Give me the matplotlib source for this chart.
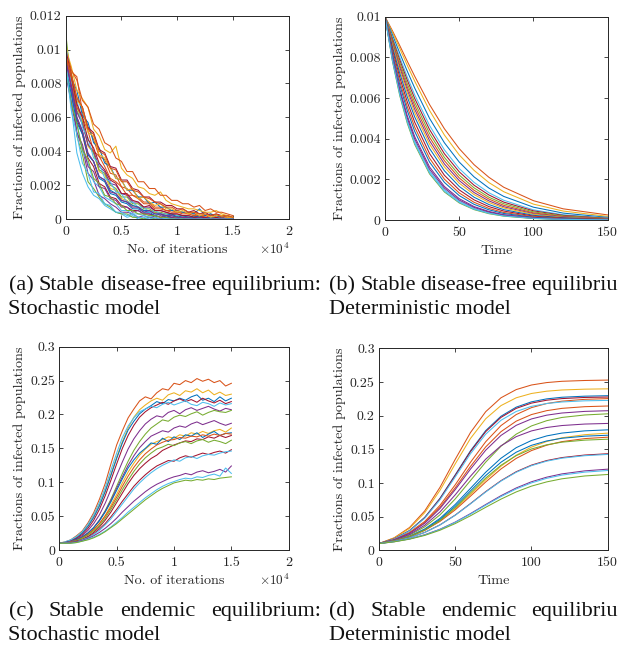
import numpy as np
import matplotlib
matplotlib.use('Agg')
import matplotlib.pyplot as plt

plt.rcParams['font.family'] = ['cmr10', 'DejaVu Serif']
plt.rcParams['mathtext.fontset'] = 'cm'
plt.rcParams['axes.unicode_minus'] = False

# MATLAB default line colours
BLUE, ORANGE, YELLOW, PURPLE = '#0072BD', '#D95319', '#EDB120', '#7E2F8E'
GREEN, LBLUE, DRED = '#77AC30', '#4DBEEE', '#A2142F'

# ---------------- (a) stochastic, disease-free (values x 1e-4) ----------------
iters = list(range(0, 15001, 500))
free_stoch = [
    [98, 66, 39, 27, 19, 14, 12, 8, 6, 4, 3, 1, 2, 0, 0, 1, 0, 0, 0, 0, 0, 0, 0, 0, 0, 0, 0, 0, 0, 0, 0],
    [110, 79, 49, 38, 22, 18, 13, 9, 7, 4, 3, 3, 1, 1, 0, 1, 0, 0, 0, 0, 0, 0, 0, 0, 0, 0, 0, 0, 0, 0, 0],
    [100, 75, 51, 42, 27, 23, 14, 12, 9, 7, 4, 4, 3, 1, 2, 1, 1, 0, 1, 0, 0, 0, 0, 0, 0, 0, 0, 0, 0, 0, 0],
    [95, 70, 57, 40, 33, 22, 19, 13, 11, 9, 5, 5, 3, 3, 2, 1, 2, 1, 0, 1, 0, 0, 0, 0, 0, 0, 0, 0, 0, 0, 0],
    [102, 82, 59, 50, 36, 31, 21, 19, 13, 12, 8, 7, 5, 5, 3, 3, 2, 1, 2, 1, 1, 0, 1, 0, 0, 0, 0, 0, 0, 0, 0],
    [98, 80, 60, 52, 38, 34, 24, 22, 15, 14, 10, 9, 6, 6, 4, 4, 2, 3, 1, 2, 1, 1, 1, 2, 0, 1, 0, 0, 1, 0, 0],
    [104, 86, 66, 58, 43, 39, 28, 26, 18, 17, 12, 11, 8, 7, 5, 5, 4, 3, 3, 2, 2, 1, 2, 1, 1, 0, 1, 0, 0, 0, 0],
    [97, 83, 64, 57, 44, 39, 29, 27, 20, 18, 13, 13, 9, 9, 6, 6, 4, 4, 3, 3, 2, 2, 1, 2, 1, 1, 0, 1, 0, 0, 0],
    [92, 79, 63, 56, 44, 40, 31, 28, 21, 20, 15, 14, 10, 10, 7, 7, 5, 5, 4, 3, 3, 2, 2, 1, 2, 1, 1, 0, 1, 0, 0],
    [100, 87, 84, 63, 54, 47, 37, 35, 27, 26, 19, 18, 14, 13, 10, 10, 7, 7, 5, 5, 4, 4, 3, 3, 2, 2, 3, 1, 2, 1, 0],
    [99, 83, 76, 61, 57, 45, 42, 33, 31, 24, 23, 17, 17, 13, 13, 9, 10, 7, 7, 5, 5, 4, 4, 3, 6, 2, 3, 2, 1, 2, 0],
    [96, 86, 71, 66, 54, 51, 41, 39, 31, 30, 23, 23, 18, 17, 13, 13, 10, 10, 8, 8, 6, 6, 4, 5, 3, 4, 2, 3, 2, 2, 1],
    [101, 90, 76, 71, 66, 53, 49, 41, 39, 43, 30, 26, 24, 19, 18, 15, 14, 16, 11, 9, 8, 7, 6, 6, 5, 4, 4, 5, 3, 2, 1],
    [100, 88, 82, 70, 66, 56, 53, 45, 43, 36, 34, 28, 28, 22, 22, 18, 18, 14, 14, 11, 11, 9, 9, 7, 8, 5, 6, 4, 4, 3, 2],
    [103, 81, 71, 54, 48, 36, 33, 24, 22, 16, 15, 10, 10, 7, 7, 4, 5, 3, 3, 2, 2, 1, 2, 0, 1, 0, 0, 1, 0, 0, 0],
    [85, 69, 51, 44, 31, 28, 19, 18, 12, 11, 7, 7, 4, 5, 3, 3, 1, 2, 1, 1, 0, 1, 0, 0, 0, 0, 0, 0, 0, 0, 0],
    [95, 83, 66, 60, 52, 40, 37, 31, 24, 22, 19, 14, 14, 12, 9, 9, 6, 6, 5, 4, 4, 3, 3, 2, 2, 1, 2, 1, 0, 1, 0],
    [88, 74, 57, 50, 38, 34, 25, 23, 17, 15, 11, 10, 8, 7, 5, 5, 3, 3, 2, 3, 1, 2, 1, 1, 2, 0, 1, 0, 0, 0, 0],
    [90, 68, 56, 41, 35, 24, 21, 14, 13, 9, 8, 5, 5, 3, 3, 2, 2, 1, 1, 0, 1, 0, 0, 0, 0, 0, 0, 0, 0, 0, 0],
    [98, 86, 70, 66, 51, 49, 38, 36, 30, 24, 23, 17, 18, 12, 13, 10, 8, 9, 6, 6, 4, 5, 3, 4, 2, 3, 1, 2, 2, 1, 1],
    [100, 85, 68, 60, 47, 42, 33, 29, 23, 21, 15, 15, 11, 10, 7, 8, 5, 5, 4, 3, 3, 2, 2, 1, 1, 1, 0, 1, 0, 0, 0],
    [94, 78, 60, 52, 39, 34, 25, 23, 16, 15, 11, 10, 7, 7, 4, 5, 3, 3, 2, 2, 1, 1, 1, 0, 1, 0, 0, 0, 0, 0, 0],
    [92, 64, 50, 33, 27, 16, 15, 9, 8, 4, 4, 2, 3, 1, 1, 0, 1, 0, 0, 0, 0, 0, 0, 0, 0, 0, 0, 0, 0, 0, 0],
    [97, 85, 72, 66, 53, 50, 40, 38, 30, 29, 22, 22, 17, 16, 13, 12, 10, 9, 7, 7, 5, 6, 4, 4, 3, 3, 2, 3, 1, 2, 1],
]
free_stoch_colors = [LBLUE, GREEN, PURPLE, LBLUE, DRED, BLUE, YELLOW, GREEN,
                     PURPLE, ORANGE, BLUE, DRED, YELLOW, ORANGE, LBLUE, PURPLE,
                     ORANGE, BLUE, GREEN, YELLOW, DRED, PURPLE, LBLUE, ORANGE]

# ---------------- (b) deterministic, disease-free (values x 1e-4) ----------------
t_free = [0, 5, 10, 15, 20, 30, 40, 50, 60, 70, 80, 100, 120, 150]
free_det = [
    [100, 93.1, 85.7, 78.1, 70.7, 56.8, 44.9, 35.1, 27.2, 21.0, 16.1, 9.5, 5.5, 2.5],
    [100, 92.3, 84.3, 76.1, 68.3, 53.9, 41.8, 32.0, 24.4, 18.4, 13.9, 7.8, 4.4, 1.8],
    [100, 91.1, 82.0, 73.2, 64.9, 50.0, 38.0, 28.5, 21.2, 15.7, 11.6, 6.3, 3.4, 1.3],
    [100, 89.9, 79.9, 70.4, 61.6, 46.5, 34.5, 25.3, 18.5, 13.4, 9.7, 5.0, 2.6, 1.0],
    [100, 89.1, 78.6, 68.8, 59.8, 44.5, 32.6, 23.7, 17.1, 12.3, 8.8, 4.5, 2.3, 0.8],
    [100, 88.3, 77.3, 67.1, 57.9, 42.6, 30.8, 22.1, 15.8, 11.2, 8.0, 4.0, 2.0, 0.7],
    [100, 87.6, 76.0, 65.5, 56.2, 40.7, 29.2, 20.7, 14.6, 10.3, 7.2, 3.5, 1.7, 0.6],
    [100, 86.8, 74.8, 64.0, 54.5, 39.0, 27.6, 19.4, 13.5, 9.4, 6.5, 3.1, 1.5, 0.5],
    [100, 86.1, 73.5, 62.5, 52.8, 37.3, 26.1, 18.1, 12.5, 8.6, 5.9, 2.8, 1.3, 0.4],
    [100, 85.1, 72.0, 60.5, 50.7, 35.2, 24.2, 16.5, 11.2, 7.6, 5.1, 2.3, 1.1, 0.3],
    [100, 83.9, 70.0, 58.1, 48.1, 32.7, 22.0, 14.8, 9.9, 6.6, 4.4, 1.9, 0.9, 0.3],
    [100, 82.6, 68.0, 55.8, 45.7, 30.4, 20.1, 13.3, 8.7, 5.7, 3.7, 1.6, 0.7, 0.2],
    [100, 81.6, 66.3, 53.8, 43.6, 28.5, 18.5, 12.0, 7.7, 5.0, 3.2, 1.3, 0.6, 0.1],
    [100, 80.2, 64.2, 51.3, 41.0, 26.1, 16.5, 10.5, 6.6, 4.2, 2.6, 1.1, 0.4, 0.1],
    [100, 78.9, 62.3, 49.1, 38.7, 24.0, 14.9, 9.2, 5.7, 3.5, 2.2, 0.8, 0.3, 0.1],
    [100, 78.1, 61.0, 47.6, 37.2, 22.7, 13.8, 8.4, 5.1, 3.1, 1.9, 0.7, 0.3, 0.1],
    [100, 79.5, 63.2, 50.2, 39.9, 25.0, 15.7, 9.8, 6.2, 3.9, 2.4, 0.9, 0.4, 0.1],
    [100, 78.5, 61.5, 48.2, 37.8, 23.2, 14.2, 8.7, 5.3, 3.3, 2.0, 0.8, 0.3, 0.1],
]
free_det_colors = [ORANGE, YELLOW, BLUE, LBLUE, DRED, GREEN, ORANGE, PURPLE, YELLOW,
                   BLUE, DRED, ORANGE, BLUE, PURPLE, LBLUE, GREEN, PURPLE, LBLUE]

# ---------------- (c) stochastic, endemic (values x 1e-3) ----------------
endemic_stoch = [
    [10, 12, 15, 21, 28, 40, 55, 75, 98, 127, 155, 176, 195, 208, 220, 226, 223, 232, 238, 236, 246, 244, 250, 247, 253, 249, 252, 247, 250, 242, 246],
    [10, 11, 14, 19, 26, 36, 50, 67, 88, 112, 137, 160, 180, 196, 207, 214, 220, 224, 221, 229, 232, 228, 235, 233, 238, 232, 236, 229, 233, 228, 230],
    [10, 11, 14, 18, 25, 35, 48, 65, 86, 110, 135, 158, 177, 190, 201, 208, 213, 219, 216, 222, 220, 224, 221, 226, 229, 221, 224, 219, 226, 220, 224],
    [10, 11, 13, 17, 23, 32, 44, 60, 80, 103, 127, 150, 169, 184, 196, 204, 210, 214, 218, 215, 220, 223, 219, 222, 218, 224, 220, 217, 221, 216, 219],
    [10, 12, 15, 20, 27, 38, 52, 70, 92, 118, 143, 166, 183, 195, 204, 208, 212, 210, 215, 218, 214, 217, 220, 215, 213, 218, 216, 212, 217, 214, 216],
    [10, 11, 13, 16, 21, 29, 39, 52, 69, 89, 110, 130, 149, 164, 176, 186, 193, 198, 196, 203, 206, 201, 207, 210, 206, 209, 212, 208, 205, 209, 207],
    [10, 10, 12, 15, 19, 25, 33, 44, 58, 75, 94, 113, 131, 147, 160, 171, 180, 186, 192, 190, 196, 199, 197, 201, 204, 199, 203, 206, 204, 203, 206],
    [10, 11, 12, 15, 19, 25, 33, 44, 57, 73, 91, 108, 125, 139, 151, 160, 168, 172, 176, 174, 180, 183, 181, 186, 189, 185, 188, 191, 187, 184, 187],
    [10, 10, 12, 14, 18, 23, 30, 39, 51, 66, 82, 99, 115, 128, 140, 149, 156, 160, 163, 167, 165, 170, 168, 173, 171, 175, 172, 176, 178, 174, 180],
    [10, 11, 12, 15, 19, 25, 33, 43, 56, 71, 88, 105, 121, 133, 143, 150, 158, 156, 165, 160, 167, 163, 170, 168, 173, 166, 171, 175, 169, 172, 173],
    [10, 10, 11, 13, 16, 20, 26, 34, 44, 56, 70, 84, 98, 110, 120, 128, 135, 140, 147, 151, 155, 158, 161, 160, 164, 163, 167, 165, 169, 166, 169],
    [10, 10, 12, 14, 18, 23, 30, 39, 50, 63, 78, 94, 109, 122, 133, 142, 149, 155, 159, 162, 163, 166, 165, 168, 167, 170, 168, 171, 169, 172, 171],
    [10, 10, 11, 14, 17, 22, 28, 36, 47, 60, 74, 89, 103, 116, 127, 136, 143, 149, 152, 156, 154, 158, 160, 157, 161, 163, 159, 162, 160, 157, 162],
    [10, 10, 11, 13, 15, 19, 24, 31, 39, 49, 60, 72, 83, 94, 103, 111, 118, 124, 128, 132, 131, 136, 139, 137, 140, 143, 141, 144, 146, 143, 148],
    [10, 10, 11, 12, 15, 18, 23, 29, 37, 46, 57, 68, 79, 90, 99, 107, 114, 120, 125, 129, 133, 131, 136, 138, 135, 139, 141, 140, 143, 145, 146],
    [10, 10, 11, 12, 14, 17, 21, 26, 32, 39, 47, 56, 64, 72, 79, 86, 92, 97, 101, 105, 108, 110, 113, 111, 115, 117, 114, 116, 119, 115, 124],
    [10, 10, 10, 11, 13, 16, 19, 23, 28, 34, 41, 48, 56, 63, 70, 77, 83, 89, 94, 98, 101, 104, 106, 105, 108, 107, 110, 112, 109, 121, 113],
    [10, 10, 10, 11, 13, 15, 18, 22, 27, 33, 39, 46, 53, 60, 67, 74, 80, 86, 91, 95, 99, 101, 103, 102, 104, 103, 105, 104, 106, 107, 108],
]
endemic_stoch_colors = [ORANGE, YELLOW, BLUE, DRED, LBLUE, PURPLE, GREEN, PURPLE, YELLOW,
                        BLUE, DRED, ORANGE, GREEN, DRED, LBLUE, PURPLE, LBLUE, GREEN]

# ---------------- (d) deterministic, endemic (values x 1e-3) ----------------
t_end = [0, 10, 20, 30, 40, 50, 60, 70, 80, 90, 100, 110, 120, 135, 150]
endemic_det = [
    [10, 18.6, 33.8, 58.5, 93.5, 135.1, 174.9, 205.9, 226.5, 238.7, 245.5, 249.1, 251.0, 252.2, 252.8],
    [10, 18.2, 32.5, 55.9, 89.1, 128.4, 166.1, 195.4, 214.9, 226.5, 232.9, 236.3, 238.1, 239.3, 239.8],
    [10, 17.0, 29.2, 48.9, 77.2, 112.1, 147.8, 177.8, 199.1, 212.6, 220.5, 224.9, 227.3, 228.9, 229.6],
    [10, 17.0, 29.0, 48.5, 76.6, 111.2, 146.5, 176.3, 197.4, 210.8, 218.6, 222.9, 225.3, 227.0, 227.6],
    [10, 16.1, 26.5, 42.9, 66.8, 97.3, 130.7, 161.3, 185.2, 201.6, 211.9, 218.0, 221.5, 224.2, 225.3],
    [10, 16.8, 28.6, 47.6, 75.0, 108.9, 143.4, 172.5, 193.1, 206.2, 213.8, 218.0, 220.3, 222.0, 222.6],
    [10, 15.8, 25.6, 41.2, 63.9, 92.9, 124.5, 153.6, 176.2, 191.8, 201.6, 207.4, 210.8, 213.3, 214.3],
    [10, 15.6, 25.1, 40.1, 62.0, 90.1, 120.6, 148.7, 170.6, 185.6, 195.1, 200.7, 203.9, 206.3, 207.3],
    [10, 14.8, 22.6, 34.8, 52.6, 76.3, 103.6, 131.0, 154.6, 172.5, 184.7, 192.5, 197.3, 201.0, 202.7],
    [10, 15.1, 23.6, 37.2, 57.0, 82.4, 110.0, 135.4, 155.2, 168.8, 177.3, 182.4, 185.3, 187.5, 188.4],
    [10, 14.2, 21.0, 31.7, 47.4, 68.1, 92.0, 116.0, 136.7, 152.4, 163.1, 169.9, 174.1, 177.4, 178.9],
    [10, 14.2, 20.7, 30.4, 44.1, 62.0, 83.1, 104.9, 124.9, 141.2, 153.3, 161.6, 167.1, 171.7, 174.0],
    [10, 14.0, 20.5, 30.7, 45.6, 65.3, 88.2, 111.1, 130.8, 145.7, 155.9, 162.4, 166.4, 169.5, 170.9],
    [10, 14.0, 20.3, 29.6, 42.9, 60.1, 80.4, 101.5, 120.8, 136.5, 148.1, 156.1, 161.4, 165.9, 168.0],
    [10, 13.8, 20.1, 29.9, 44.3, 63.3, 85.3, 107.3, 126.3, 140.6, 150.5, 156.7, 160.6, 163.6, 165.0],
    [10, 13.4, 18.7, 26.6, 37.8, 52.3, 69.4, 87.2, 103.4, 116.7, 126.5, 133.3, 137.7, 141.5, 143.4],
    [10, 13.4, 18.6, 26.5, 37.6, 52.0, 69.0, 86.6, 102.8, 115.9, 125.7, 132.4, 136.8, 140.5, 142.4],
    [10, 12.8, 17.0, 23.1, 31.3, 41.9, 54.5, 68.0, 81.1, 92.6, 101.8, 108.6, 113.5, 118.0, 120.5],
    [10, 12.8, 16.9, 22.8, 30.9, 41.4, 53.7, 67.0, 79.8, 91.1, 100.1, 106.9, 111.7, 116.1, 118.5],
    [10, 12.6, 16.5, 22.1, 29.8, 39.7, 51.3, 63.9, 76.0, 86.7, 95.3, 101.6, 106.2, 110.4, 112.6],
]
endemic_det_colors = [ORANGE, YELLOW, BLUE, DRED, ORANGE, LBLUE, ORANGE, PURPLE, GREEN, PURPLE,
                      BLUE, YELLOW, BLUE, ORANGE, GREEN, DRED, LBLUE, PURPLE, LBLUE, GREEN]

# tick values / labels
iter_ticks = [0, 0.5, 1, 1.5, 2]
iter_labels = ['0', '0.5', '1', '1.5', '2']
time_ticks = [0, 50, 100, 150]
time_labels = ['0', '50', '100', '150']
free_stoch_yt = [0, 0.002, 0.004, 0.006, 0.008, 0.01, 0.012]
free_stoch_yl = ['0', '0.002', '0.004', '0.006', '0.008', '0.01', '0.012']
free_det_yt = [0, 0.002, 0.004, 0.006, 0.008, 0.01]
free_det_yl = ['0', '0.002', '0.004', '0.006', '0.008', '0.01']
end_yt = [0, 0.05, 0.1, 0.15, 0.2, 0.25, 0.3]
end_yl = ['0', '0.05', '0.1', '0.15', '0.2', '0.25', '0.3']

W, H = 618, 647
fig = plt.figure(figsize=(W / 100, H / 100), dpi=100)
INK = '#262626'


def px_axes(l, t, r, b):
    return fig.add_axes([l / W, 1 - b / H, (r - l) / W, (b - t) / H])


def style(ax, xt, xl, yt, yl, xlabel, ylab_x):
    ax.set_xticks(xt)
    ax.set_xticklabels(xl)
    ax.set_yticks(yt)
    ax.set_yticklabels(yl)
    for s in ax.spines.values():
        s.set_color(INK)
        s.set_linewidth(0.7)
    ax.tick_params(direction='in', top=True, right=True, length=3, width=0.6,
                   colors=INK, labelsize=10)
    ax.tick_params(axis='x', pad=5)
    ax.tick_params(axis='y', pad=3)
    ax.set_xlabel(xlabel, fontsize=10.2, color=INK)
    ax.xaxis.set_label_coords(0.5, -0.12)
    ax.set_ylabel('Fractions of infected populations', fontsize=10.2, color=INK)
    ax.yaxis.set_label_coords(ylab_x, 0.5)


lw = 0.75

# (a)
ax = px_axes(65.7, 15.7, 288.7, 219)
x_a = np.array(iters) / 1e4
for vals, c in zip(free_stoch, free_stoch_colors):
    ax.plot(x_a, np.array(vals) * 1e-4, color=c, lw=lw)
ax.set_xlim(0, 2)
ax.set_ylim(0, 0.012)
style(ax, iter_ticks, iter_labels, free_stoch_yt, free_stoch_yl, 'No. of iterations', -0.18)
ax.text(0.935, -0.148, r'$\times10^4$', transform=ax.transAxes, ha='center', va='center',
        fontsize=9.5, color=INK)

# (b)
ax = px_axes(385, 16.7, 607.7, 220)
for vals, c in zip(free_det, free_det_colors):
    ax.plot(t_free, np.array(vals) * 1e-4, color=c, lw=lw)
ax.set_xlim(0, 150)
ax.set_ylim(0, 0.01)
style(ax, time_ticks, time_labels, free_det_yt, free_det_yl, 'Time', -0.175)

# (c)
ax = px_axes(59.3, 346.7, 288.7, 550)
for vals, c in zip(endemic_stoch, endemic_stoch_colors):
    ax.plot(x_a, np.array(vals) * 1e-3, color=c, lw=lw)
ax.set_xlim(0, 2)
ax.set_ylim(0, 0.3)
style(ax, iter_ticks, iter_labels, end_yt, end_yl, 'No. of iterations', -0.145)
ax.text(0.935, -0.148, r'$\times10^4$', transform=ax.transAxes, ha='center', va='center',
        fontsize=9.5, color=INK)

# (d)
ax = px_axes(379, 348.3, 607.7, 550.3)
for vals, c in zip(endemic_det, endemic_det_colors):
    ax.plot(t_end, np.array(vals) * 1e-3, color=c, lw=lw)
ax.set_xlim(0, 150)
ax.set_ylim(0, 0.3)
style(ax, time_ticks, time_labels, end_yt, end_yl, 'Time', -0.145)

# captions (justified first lines, like the paper layout)
renderer = fig.canvas.get_renderer()
CAP = dict(family=['Liberation Serif', 'DejaVu Serif'], fontsize=16, color='#111111')


def justified(words, x0, x1, y):
    texts = [fig.text(0, 1 - y / H, w, va='baseline', ha='left', **CAP) for w in words]
    widths = [t.get_window_extent(renderer).width for t in texts]
    gap = (x1 - x0 - sum(widths)) / (len(words) - 1)
    x = x0
    for t, w in zip(texts, widths):
        t.set_x(x / W)
        x += w + gap


def plain(text, x, y):
    fig.text(x / W, 1 - y / H, text, va='baseline', ha='left', **CAP)


col_w = 321 - 8.5
justified(['(a)', 'Stable', 'disease-free', 'equilibrium:'], 8.5, 8.5 + col_w, 290)
plain('Stochastic model', 8.5, 314)
justified(['(b)', 'Stable', 'disease-free', 'equilibrium:'], 329, 329 + col_w, 290)
plain('Deterministic model', 329, 314)
justified(['(c)', 'Stable', 'endemic', 'equilibrium:'], 8.5, 8.5 + col_w, 616)
plain('Stochastic model', 8.5, 640)
justified(['(d)', 'Stable', 'endemic', 'equilibrium:'], 329, 329 + col_w, 616)
plain('Deterministic model', 329, 640)

fig.savefig('out.png', dpi=100)
